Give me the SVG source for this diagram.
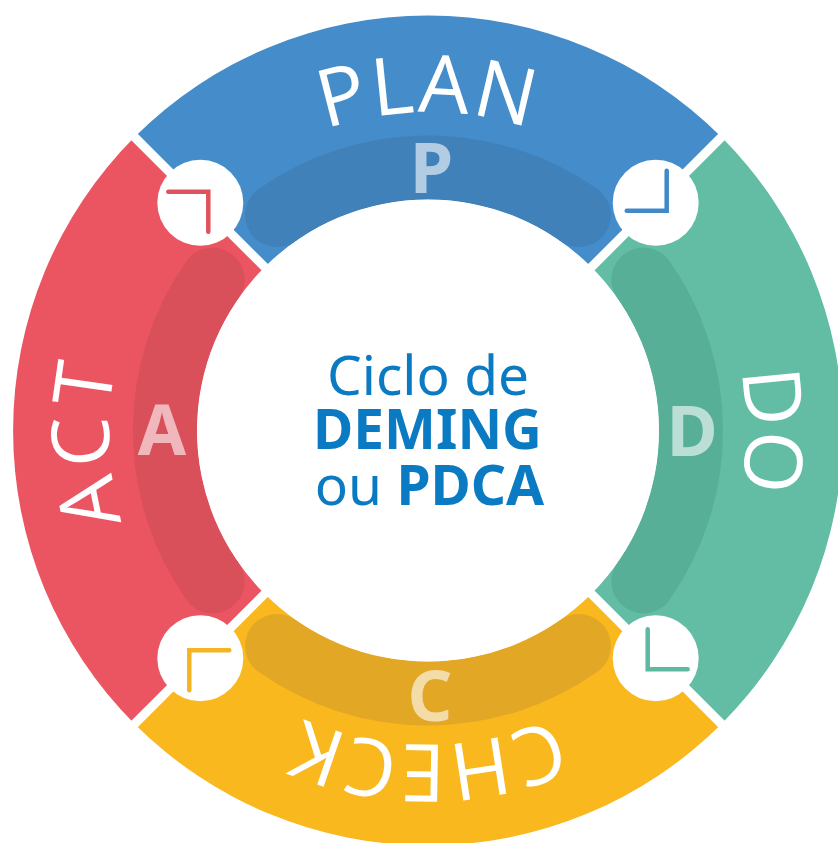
<svg xmlns="http://www.w3.org/2000/svg" width="838" height="843" viewBox="0 0 838 843">
<defs>
<style>
.lbl{font-family:"Open Sans","DejaVu Sans",sans-serif;font-size:80px;fill:#fff;text-anchor:middle}
.big{font-family:"Noto Sans","DejaVu Sans",sans-serif;font-weight:700;font-size:70px;fill:#fff;fill-opacity:.6;text-anchor:middle}
.stripe{fill:none;stroke-width:64;stroke-linecap:round}
.mark{fill:none;stroke-width:4.5;stroke-linecap:round}
.ctr{font-family:"Noto Sans","DejaVu Sans",sans-serif;font-size:55px;fill:#0a7bc2;text-anchor:middle}
.b{font-weight:700}
.gap{stroke:#fff;stroke-width:9}
</style>
<path id="arcP" d="M114.8,375.3 A318,318 0 0 1 741.2,375.3"/>
<path id="arcD" d="M483.2,117.3 A318,318 0 0 1 483.2,743.7"/>
<path id="arcC" d="M737.2,485 A314,314 0 0 1 118.8,485"/>
<path id="arcA" d="M383.6,746.4 A319,319 0 0 1 361.7,118.5"/>
</defs>
<rect width="838" height="843" fill="#fff"/>

<g id="node-plan">
<path d="M134.6,137.1 A415,415 0 0 1 721.4,137.1 L591.3,267.2 A231,231 0 0 0 264.7,267.2 Z" fill="#448cca"/>
<path class="stripe" stroke="#4081ba" d="M277.1,215.1 A263,263 0 0 1 578.9,215.1"/>
</g>
<g id="node-do">
<path d="M721.4,137.1 A415,415 0 0 1 721.4,723.9 L591.3,593.8 A231,231 0 0 0 591.3,267.2 Z" fill="#62bda4"/>
<path class="stripe" stroke="#57af97" d="M643.4,279.6 A263,263 0 0 1 643.4,581.4"/>
</g>
<g id="node-check">
<path d="M721.4,723.9 A415,415 0 0 1 134.6,723.9 L264.7,593.8 A231,231 0 0 0 591.3,593.8 Z" fill="#f8b81e"/>
<path class="stripe" stroke="#e3a726" d="M578.9,645.9 A263,263 0 0 1 277.1,645.9"/>
</g>
<g id="node-act">
<path d="M134.6,723.9 A415,415 0 0 1 134.6,137.1 L264.7,267.2 A231,231 0 0 0 264.7,593.8 Z" fill="#ea5561"/>
<path class="stripe" stroke="#d94f5a" d="M212.6,581.4 A263,263 0 0 1 212.6,279.6"/>
</g>

<g id="gaps">
<line class="gap" x1="128" y1="130.5" x2="728" y2="730.5"/>
<line class="gap" x1="728" y1="130.5" x2="128" y2="730.5"/>
</g>

<circle id="center-disc" cx="428" cy="430.5" r="231" fill="#fff"/>

<g id="connectors">
<g>
<circle cx="200.3" cy="202.8" r="43" fill="#fff"/>
<path class="mark" stroke="#e0525d" d="M168.3,191.8 H208.3 V231.8"/>
</g>
<g transform="rotate(90 428 430.5)">
<circle cx="200.3" cy="202.8" r="43" fill="#fff"/>
<path class="mark" stroke="#4289c8" d="M168.3,191.8 H208.3 V231.8"/>
</g>
<g transform="rotate(180 428 430.5)">
<circle cx="200.3" cy="202.8" r="43" fill="#fff"/>
<path class="mark" stroke="#5fb9a0" d="M168.3,191.8 H208.3 V231.8"/>
</g>
<g transform="rotate(270 428 430.5)">
<circle cx="200.3" cy="202.8" r="43" fill="#fff"/>
<path class="mark" stroke="#f4b423" d="M168.3,191.8 H208.3 V231.8"/>
</g>
</g>

<g id="labels">
<text class="big" x="431.5" y="193">P</text>
<text class="big" x="692" y="456">D</text>
<text class="big" x="430" y="721">C</text>
<text class="big" x="162" y="455">A</text>
<text class="lbl" letter-spacing="2"><textPath href="#arcP" startOffset="50%">PLAN</textPath></text>
<text class="lbl"><textPath href="#arcD" startOffset="50%">DO</textPath></text>
<text class="lbl" letter-spacing="1"><textPath href="#arcC" startOffset="50%">CHECK</textPath></text>
<text class="lbl" letter-spacing="6"><textPath href="#arcA" startOffset="50%">ACT</textPath></text>
</g>

<g id="node-center">
<text class="ctr" x="428" y="395">Ciclo de</text>
<text class="ctr b" x="427.5" y="448.5">DEMING</text>
<text class="ctr" x="429.5" y="505">ou <tspan class="b">PDCA</tspan></text>
</g>
</svg>
